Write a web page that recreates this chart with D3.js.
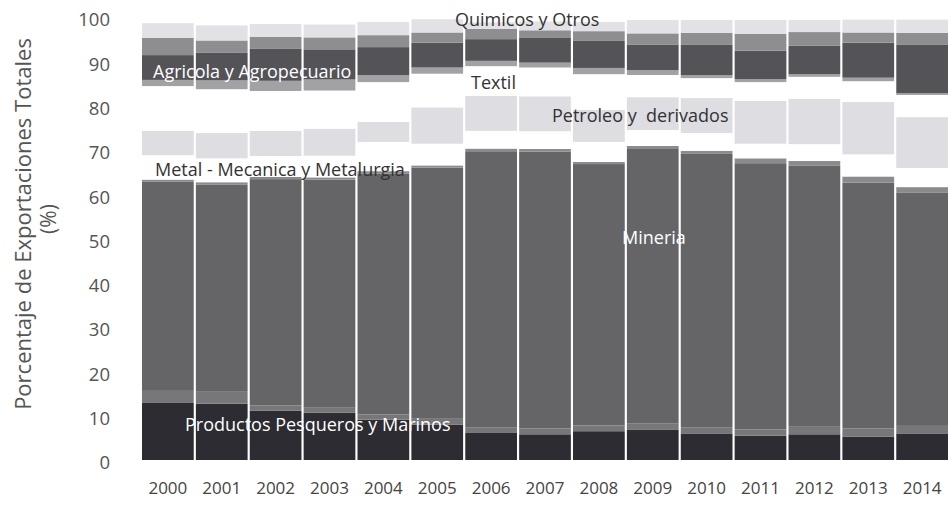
<!DOCTYPE html>
<html>
<head>
<meta charset="utf-8">
<script src="https://cdn.jsdelivr.net/npm/d3@7"></script>
<style>
  body { margin: 0; background: #fff; }
  text { font-family: "Open Sans", sans-serif; }
</style>
</head>
<body>
<div id="chart"></div>
<script>
const svgWidth = 952,
      svgHeight = 505,
      margin = {top: 17, right: 4, bottom: 45, left: 142},
      width = svgWidth - margin.left - margin.right,
      height = svgHeight - margin.top - margin.bottom;

// values, percent of total exports, bottom layer first
const years = ["2000","2001","2002","2003","2004","2005","2006","2007","2008","2009","2010","2011","2012","2013","2014"];
const pesqueros      = [13.0,12.7,11.1,10.7, 9.1, 8.0, 6.1, 5.8, 6.5, 6.9, 6.0, 5.5, 5.8, 5.3, 6.0];
const pesquerosOtros = [ 2.6, 2.7, 1.2, 1.1, 1.2, 1.3, 1.3, 1.3, 1.3, 1.4, 1.3, 1.4, 1.7, 1.8, 1.7];
const mineria        = [47.2,46.8,51.1,51.5,54.3,56.7,62.3,62.5,59.0,61.9,61.8,60.1,58.9,55.5,52.6];
const mineriaOtros   = [ 0.5, 0.5, 0.5, 0.5, 0.6, 0.5, 0.6, 0.6, 0.5, 0.7, 0.7, 1.1, 1.1, 1.4, 1.3];
const metalMecanica  = [ 5.5, 5.4, 4.7, 4.9, 6.6, 4.9, 4.0, 4.0, 4.5, 3.6, 4.0, 3.3, 3.8, 5.0, 4.3];
const petroleo       = [ 5.5, 5.7, 5.7, 6.1, 4.5, 8.2, 7.9, 7.9, 7.2, 7.4, 7.9, 9.7,10.2,11.8,11.5];
const textil         = [10.1, 9.9, 9.0, 8.6, 9.0, 7.6, 6.7, 6.5, 8.1, 5.0, 4.5, 4.2, 5.0, 4.7, 5.0];
const agroOtros      = [ 1.4, 2.0, 2.3, 2.5, 1.6, 1.4, 1.2, 1.1, 1.4, 1.1, 0.7, 0.7, 0.6, 0.8, 0.4];
const agricola       = [ 5.6, 6.2, 7.2, 6.8, 6.3, 5.6, 4.9, 5.7, 6.1, 5.8, 6.8, 6.4, 6.4, 7.9,10.9];
const agropecuario   = [ 3.9, 2.8, 2.7, 2.7, 2.7, 2.3, 2.3, 1.6, 2.2, 2.5, 2.7, 3.8, 3.1, 2.3, 2.7];
const quimicos       = [ 3.3, 3.4, 2.9, 2.9, 3.0, 3.0, 1.5, 2.0, 2.1, 3.0, 2.9, 3.1, 2.7, 2.9, 3.0];
const yTicks = [0,10,20,30,40,50,60,70,80,90,100];

const series = {
  pesqueros, pesquerosOtros, mineria, mineriaOtros, metalMecanica,
  petroleo, textil, agroOtros, agricola, agropecuario, quimicos
};
const keys = Object.keys(series);
const colors = {
  pesqueros: "#2c2c32", pesquerosOtros: "#77777a", mineria: "#656568", mineriaOtros: "#8b8b8d",
  metalMecanica: "#ffffff", petroleo: "#dddde2", textil: "#ffffff", agroOtros: "#a2a2a4",
  agricola: "#545458", agropecuario: "#8e8e91", quimicos: "#e2e2e6"
};

let table = years.map((y, i) => {
  let row = {year: y};
  keys.forEach(k => row[k] = series[k][i]);
  return row;
});
let stacked = d3.stack().keys(keys)(table);

let scaleY = d3.scaleLinear().domain([0, 100]).range([height, 0]),
    scaleX = d3.scaleBand().range([0, width]).domain(years).paddingInner(0.04).paddingOuter(0);

let svg = d3.select("#chart")
  .append("svg")
  .attr("width", svgWidth)
  .attr("height", svgHeight);

let g = svg.append("g")
  .attr("transform", "translate(" + margin.left + "," + margin.top + ")");

g.selectAll("g.layer")
  .data(stacked)
  .enter()
  .append("g")
  .attr("class", "layer")
  .attr("fill", d => colors[d.key])
  .selectAll("rect")
  .data(d => d)
  .enter()
  .append("rect")
  .attr("x", d => scaleX(d.data.year))
  .attr("y", d => scaleY(d[1]))
  .attr("width", scaleX.bandwidth())
  .attr("height", d => scaleY(d[0]) - scaleY(d[1]));

// axes without lines
let yAxis = g.append("g")
  .call(d3.axisLeft(scaleY).tickValues(yTicks).tickSize(0).tickPadding(32));
yAxis.select(".domain").remove();
yAxis.selectAll("text")
  .attr("dy", "0.48em")
  .style("font-size", "18.5px")
  .attr("fill", "#555");

let xAxis = g.append("g")
  .attr("transform", "translate(0," + height + ")")
  .call(d3.axisBottom(scaleX).tickSize(0).tickPadding(22));
xAxis.select(".domain").remove();
xAxis.selectAll("text")
  .style("font-size", "17px")
  .attr("fill", "#444");

svg.append("text")
  .attr("transform", "translate(31,224)rotate(-90)")
  .style("text-anchor", "middle")
  .style("font-size", "22px")
  .attr("fill", "#555")
  .text("Porcentaje de Exportaciones Totales");
svg.append("text")
  .attr("transform", "translate(56,219)rotate(-90)")
  .style("text-anchor", "middle")
  .style("font-size", "21px")
  .attr("fill", "#555")
  .text("(%)");

// category labels placed on the layers
const labels = [
  {text: "Quimicos y Otros", x: 455, y: 26, color: "#333"},
  {text: "Agricola y Agropecuario", x: 153, y: 78, color: "#fff"},
  {text: "Textil", x: 471, y: 89, color: "#333"},
  {text: "Petroleo y  derivados", x: 552, y: 122, color: "#333"},
  {text: "Metal - Mecanica y Metalurgia", x: 155, y: 176, color: "#333"},
  {text: "Mineria", x: 622, y: 244, color: "#fff"},
  {text: "Productos Pesqueros y Marinos", x: 185, y: 431, color: "#fff"}
];
svg.selectAll("text.label")
  .data(labels)
  .enter()
  .append("text")
  .attr("class", "label")
  .attr("x", d => d.x)
  .attr("y", d => d.y)
  .attr("fill", d => d.color)
  .style("font-size", "18px")
  .style("white-space", "pre")
  .text(d => d.text);
</script>
</body>
</html>
